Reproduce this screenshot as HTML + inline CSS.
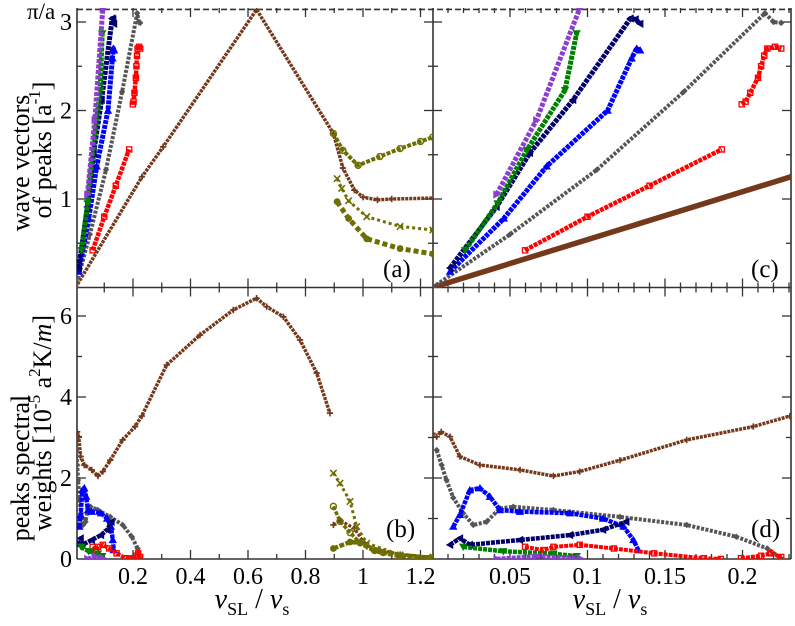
<!DOCTYPE html>
<html><head><meta charset="utf-8"><style>
html,body{margin:0;padding:0;background:#fff;}
svg, svg text{font-family:"Liberation Serif","DejaVu Serif",serif;}
</style></head><body>
<svg id="fig" width="795" height="621" viewBox="0 0 795 621" xmlns="http://www.w3.org/2000/svg" font-family="Liberation Serif, DejaVu Serif, serif">
<defs>
<clipPath id="clipA"><rect x="77" y="8" width="356" height="280"/></clipPath>
<clipPath id="clipC"><rect x="433" y="8" width="358" height="280"/></clipPath>
<clipPath id="clipB"><rect x="77" y="287" width="356" height="272"/></clipPath>
<clipPath id="clipD"><rect x="433" y="287" width="358" height="272"/></clipPath>
</defs>
<g id="axes"></g>
<g id="marks"></g>
<g font-size="26" fill="#000">
<text transform="translate(29,163) rotate(-90)" text-anchor="middle">wave vectors</text>
<text transform="translate(51,150) rotate(-90)" text-anchor="middle">of peaks    [a<tspan dy="-11" font-size="17">-1</tspan><tspan dy="11">]</tspan></text>
</g>
<g font-size="26" fill="#000">
<text transform="translate(29,468) rotate(-90)" text-anchor="middle">peaks spectral</text>
<text transform="translate(51,423) rotate(-90)" text-anchor="middle">weights   [10<tspan dy="-11" font-size="17">-5</tspan><tspan dy="11"> a</tspan><tspan dy="-11" font-size="17">2</tspan><tspan dy="11">K/</tspan><tspan font-style="italic">m</tspan>]</text>
</g>
<text x="252" y="608" font-size="28" text-anchor="middle"><tspan font-style="italic">v</tspan><tspan font-size="18" dy="7">SL</tspan><tspan dy="-7"> / </tspan><tspan font-style="italic">v</tspan><tspan font-size="18" dy="7">s</tspan></text>
<text x="610" y="608" font-size="28" text-anchor="middle"><tspan font-style="italic">v</tspan><tspan font-size="18" dy="7">SL</tspan><tspan dy="-7"> / </tspan><tspan font-style="italic">v</tspan><tspan font-size="18" dy="7">s</tspan></text>
<text x="383" y="277" font-size="25">(a)</text>
<text x="386" y="537" font-size="25">(b)</text>
<text x="751" y="277" font-size="25">(c)</text>
<text x="751" y="537" font-size="25">(d)</text>
<text x="27" y="19" font-size="23">π/a</text>
</svg>
<script>
// ---- data (x = vSL/vs) ----
var brownKx=[0,0.231,0.305,0.63,0.897,0.93,0.97,1.0,1.05,1.1,1.245];
var brownKy=[0,1.25,1.59,3.14,1.74,1.35,1.1,1.02,0.99,1.0,1.01];
var grayKx=[0,0.05,0.106,0.162,0.2145,0.22,0.225];
var grayKy=[0,0.6,1.33,2.21,3.1,3.0,2.99];
var blueKx=[0.0113,0.046,0.0737,0.113,0.1285,0.1317,0.134];
var blueKy=[0.18,0.78,1.37,2.0,2.59,2.7,2.68];
var navyKx=[0.0113,0.0413,0.0628,0.0907,0.1277,0.131,0.134];
var navyKy=[0.22,0.91,1.52,2.12,3.04,3.03,2.98];
var greenKx=[0.021,0.042,0.0608,0.0855,0.093];
var greenKy=[0.42,0.95,1.55,2.23,2.87];
var purpleKx=[0.0413,0.067,0.0949];
var purpleKy=[1.05,1.89,3.15];
var redKx=[0.0597,0.1,0.14,0.1866];
var redKy=[0.42,0.8,1.15,1.56];
var red2Kx=[0.1995,0.202,0.205,0.21,0.212,0.214,0.216,0.221,0.225];
var red2Ky=[2.07,2.1,2.2,2.37,2.5,2.62,2.7,2.72,2.7];
var oOpenKx=[0.897,0.93,0.983,1.059,1.129,1.2,1.243];
var oOpenKy=[1.74,1.55,1.38,1.48,1.57,1.65,1.70];
var oCrossKx=[0.91,0.926,0.95,1.013,1.129,1.243];
var oCrossKy=[1.23,1.12,0.98,0.80,0.69,0.65];
var oFillKx=[0.91,0.95,1.013,1.129,1.243];
var oFillKy=[0.97,0.78,0.55,0.44,0.38];

var brownWx=[0,0.0027,0.0056,0.0113,0.0177,0.0306,0.0565,0.078,0.095,0.121,0.164,0.207,0.2306,0.317,0.433,0.549,0.63,0.665,0.723,0.781,0.839,0.885];
var brownWy=[3.1,3.02,3.14,3.02,2.53,2.32,2.20,2.05,2.16,2.44,2.94,3.27,3.53,4.79,5.53,6.15,6.44,6.23,5.98,5.41,4.59,3.6];
var brown2Wx=[0.897,0.92,0.97,1.013,1.129,1.243];
var brown2Wy=[0.84,0.96,0.75,0.31,0.11,0.05];
var grayWx=[0.0027,0.0059,0.009,0.0134,0.0198,0.0263,0.0349,0.0435,0.0521,0.078,0.121,0.164,0.196,0.216,0.2245];
var grayWy=[2.69,2.32,1.95,1.51,1.13,0.84,0.92,1.25,1.29,1.21,1.04,0.84,0.55,0.26,0.03];
var blueWx=[0.0134,0.0177,0.0241,0.0306,0.037,0.0435,0.0564,0.0887,0.11,0.1232,0.1296,0.1328];
var blueWy=[0.80,1.09,1.70,1.75,1.54,1.21,1.17,1.13,1.00,0.80,0.47,0.22];
var navyWx=[0.0113,0.0177,0.024,0.0564,0.0887,0.11,0.125];
var navyWy=[0.35,0.51,0.35,0.47,0.59,0.72,0.92];
var redWx=[0.0597,0.0715,0.078,0.095,0.117,0.143,0.175,0.186];
var redWy=[0.30,0.22,0.30,0.35,0.26,0.14,0.02,0.0];
var red2Wx=[0.199,0.212,0.218,0.225];
var red2Wy=[0.02,0.08,0.14,0.05];
var greenWx=[0.0198,0.0457,0.078,0.093];
var greenWy=[0.30,0.19,0.13,0.07];
var purpleWx=[0.0414,0.067,0.095];
var purpleWy=[0.0,0.07,0.02];
var oCrossWx=[0.897,0.92,0.955,0.978,1.013,1.129,1.243];
var oCrossWy=[2.12,1.87,1.42,0.8,0.39,0.1,0.05];
var oOpenWx=[0.897,0.92,0.955,0.99,1.07,1.243];
var oOpenWy=[1.3,0.93,0.65,0.4,0.16,0.03];
var oFillWx=[0.897,0.955,0.99,1.04,1.129,1.243];
var oFillWy=[0.26,0.42,0.4,0.2,0.07,0.03];

// ---- axis functions ----
function xL(v){return 75.5+287.5*v;}
function xR(v){return 432.5+1550*v;}
function yK(v){return 287.5-88.5*v;}
function yW(v){return 559-40.5*v;}

var NS="http://www.w3.org/2000/svg";
var axes=document.getElementById('axes');
var marks=document.getElementById('marks');
function mk(tag,attrs,parent){var e=document.createElementNS(NS,tag);for(var k in attrs)e.setAttribute(k,attrs[k]);parent.appendChild(e);return e;}

var C={brown:'#74391b',gray:'#555555',blue:'#0000ff',navy:'#00006e',green:'#008000',purple:'#8a3fd0',red:'#ff0000',olive:'#6e6e00'};

function marker(g,type,x,y,col){
  var s=3.2,e;
  if(type==='plus'){e=mk('path',{d:'M'+(x-s)+' '+y+'h'+(2*s)+'M'+x+' '+(y-s)+'v'+(2*s),stroke:col,'stroke-width':1.6,fill:'none'},g);}
  else if(type==='cross'){e=mk('path',{d:'M'+(x-s)+' '+(y-s)+'l'+(2*s)+' '+(2*s)+'M'+(x-s)+' '+(y+s)+'l'+(2*s)+' '+(-2*s),stroke:col,'stroke-width':1.6,fill:'none'},g);}
  else if(type==='diamond'){e=mk('path',{d:'M'+x+' '+(y-s)+'L'+(x+s)+' '+y+'L'+x+' '+(y+s)+'L'+(x-s)+' '+y+'Z',fill:col},g);}
  else if(type==='up'){e=mk('path',{d:'M'+x+' '+(y-s-1)+'L'+(x+s+1)+' '+(y+s)+'L'+(x-s-1)+' '+(y+s)+'Z',fill:col},g);}
  else if(type==='down'){e=mk('path',{d:'M'+x+' '+(y+s+1)+'L'+(x+s+1)+' '+(y-s)+'L'+(x-s-1)+' '+(y-s)+'Z',fill:col},g);}
  else if(type==='left'){e=mk('path',{d:'M'+(x-s-1)+' '+y+'L'+(x+s)+' '+(y-s-1)+'L'+(x+s)+' '+(y+s+1)+'Z',fill:col},g);}
  else if(type==='right'){e=mk('path',{d:'M'+(x+s+1)+' '+y+'L'+(x-s)+' '+(y-s-1)+'L'+(x-s)+' '+(y+s+1)+'Z',fill:col},g);}
  else if(type==='square'){e=mk('rect',{x:x-2.6,y:y-2.6,width:5.2,height:5.2,fill:'none',stroke:col,'stroke-width':1.3},g);}
  else if(type==='ocircle'){e=mk('circle',{cx:x,cy:y,r:3,fill:'none',stroke:col,'stroke-width':1.4},g);}
  else {e=mk('circle',{cx:x,cy:y,r:3.4,fill:col},g);}
  
  
}

function series(name,xs,ys,fx,fy,clip,type,col,w,dash){
  var g=mk('g',{'clip-path':'url(#'+clip+')'},marks);
  
  
  var d='';
  for(var i=0;i<xs.length;i++){d+=(i?'L':'M')+fx(xs[i]).toFixed(1)+' '+fy(ys[i]).toFixed(1);}
  var p=mk('path',{d:d,fill:'none',stroke:col,'stroke-width':w,'stroke-dasharray':dash,'stroke-linejoin':'round'},g);
  
  
  for(var j=0;j<xs.length;j++)marker(g,type,fx(xs[j]),fy(ys[j]),col);
}

var K=[
 ['brown',brownKx,brownKy,'plus',C.brown,3.5,'3 1'],
 ['gray',grayKx,grayKy,'diamond',C.gray,4,'3 1.5'],
 ['blue',blueKx,blueKy,'up',C.blue,5,'4 1'],
 ['navy',navyKx,navyKy,'left',C.navy,5,'4 1'],
 ['green',greenKx,greenKy,'down',C.green,5,'4 1'],
 ['purple',purpleKx,purpleKy,'right',C.purple,5,'4 1.5'],
 ['red',redKx,redKy,'square',C.red,4.5,'4 1'],
 ['red-2',red2Kx,red2Ky,'square',C.red,4.5,'4 1'],
 ['olive-open',oOpenKx,oOpenKy,'ocircle',C.olive,4,'4 1.5'],
 ['olive-cross',oCrossKx,oCrossKy,'cross',C.olive,3,'3 3'],
 ['olive-filled',oFillKx,oFillKy,'fcircle',C.olive,5,'5 3']
];
var W=[
 ['brown',brownWx,brownWy,'plus',C.brown,3.5,'3 1'],
 ['brown-2',brown2Wx,brown2Wy,'plus',C.brown,3,'3 1.5'],
 ['gray',grayWx,grayWy,'diamond',C.gray,4,'3 1.5'],
 ['blue',blueWx,blueWy,'up',C.blue,4.5,'4 1'],
 ['navy',navyWx,navyWy,'left',C.navy,4.5,'4 1'],
 ['red',redWx,redWy,'square',C.red,4,'4 1'],
 ['red-2',red2Wx,red2Wy,'square',C.red,4,'4 1'],
 ['green',greenWx,greenWy,'down',C.green,4.5,'4 1'],
 ['purple',purpleWx,purpleWy,'right',C.purple,4.5,'4 1'],
 ['olive-cross',oCrossWx,oCrossWy,'cross',C.olive,3,'3 3'],
 ['olive-open',oOpenWx,oOpenWy,'ocircle',C.olive,3.5,'4 1.5'],
 ['olive-filled',oFillWx,oFillWy,'fcircle',C.olive,4.5,'5 1.5']
];
K.forEach(function(s){series('panel-a-'+s[0]+'-series',s[1],s[2],xL,yK,'clipA',s[3],s[4],s[5],s[6]);});
K.forEach(function(s){var w=(s[0]==='brown')?5.5:s[5];var d=(s[0]==='brown')?'none':s[6];series('panel-c-'+s[0]+'-series',s[1],s[2],xR,yK,'clipC',s[3],s[4],w,d);});
W.forEach(function(s){series('panel-b-'+s[0]+'-series',s[1],s[2],xL,yW,'clipB',s[3],s[4],s[5],s[6]);});
W.forEach(function(s){series('panel-d-'+s[0]+'-series',s[1],s[2],xR,yW,'clipD',s[3],s[4],s[5],s[6]);});

// ---- frames and ticks ----
var AX='#333';
function line(x1,y1,x2,y2,w,name){var l=mk('line',{x1:x1,y1:y1,x2:x2,y2:y2,stroke:AX,'stroke-width':w},axes);
  
  }
var xa=77,xm=433,xb=791,yt=8,ym=287.5,yb=559;
line(xa,yt,xa,yb,1.6,'left-frame');line(xm,yt,xm,yb,1.6,'middle-frame');line(xb,yt,xb,yb,1.6,'right-frame');
line(xa,ym,xb,ym,1.6,'middle-horizontal-frame');line(xa,yb,xb,yb,1.6,'bottom-frame');
var dl=mk('line',{x1:xa,y1:yK(3.1416),x2:xb,y2:yK(3.1416),stroke:AX,'stroke-width':1.6,'stroke-dasharray':'6 3'},axes);



function tickLabel(x,y,txt,anchor,name){var t=mk('text',{x:x,y:y,'font-size':24,'text-anchor':anchor,fill:'#000','font-family':'Liberation Serif, DejaVu Serif, serif'},axes);t.textContent=txt;
  
  }

for(var i=1;i<=12;i++){var v=i/10,x=xL(v),L=(i%2===0)?9:5;
  [ym,yb].forEach(function(y){line(x,y,x,y-L,1.3,'x-tick');});
  [yt,ym].forEach(function(y){line(x,y,x,y+L,1.3,'x-tick');});
}
['0.2','0.4','0.6','0.8','1','1.2'].forEach(function(s,i){tickLabel(xL((i+1)*0.2),584,s,'middle','x-tick-label-left');});
for(var j=1;j<=23;j++){var v2=j/100,x2=xR(v2),L2=(j%5===0)?9:5;
  [ym,yb].forEach(function(y){line(x2,y,x2,y-L2,1.3,'x-tick');});
  [yt,ym].forEach(function(y){line(x2,y,x2,y+L2,1.3,'x-tick');});
}
['0.05','0.1','0.15','0.2'].forEach(function(s,i){tickLabel(xR((i+1)*0.05),584,s,'middle','x-tick-label-right');});
for(var k=1;k<=6;k++){var y3=yK(k*0.5),L3=(k%2===0)?9:5;
  line(xa,y3,xa+L3,y3,1.3,'y-tick');line(xm,y3,xm-L3,y3,1.3,'y-tick');line(xm,y3,xm+L3,y3,1.3,'y-tick');line(xb,y3,xb-L3,y3,1.3,'y-tick');}
['1','2','3'].forEach(function(s,i){tickLabel(72,yK(i+1)+8,s,'end','y-tick-label-top');});
for(var m=1;m<=6;m++){var y4=yW(m),L4=(m%2===0)?9:5;
  line(xa,y4,xa+L4,y4,1.3,'y-tick');line(xm,y4,xm-L4,y4,1.3,'y-tick');line(xm,y4,xm+L4,y4,1.3,'y-tick');line(xb,y4,xb-L4,y4,1.3,'y-tick');}
['0','2','4','6'].forEach(function(s,i){tickLabel(72,yW(i*2)+8,s,'end','y-tick-label-bottom');});
</script>
</body></html>
